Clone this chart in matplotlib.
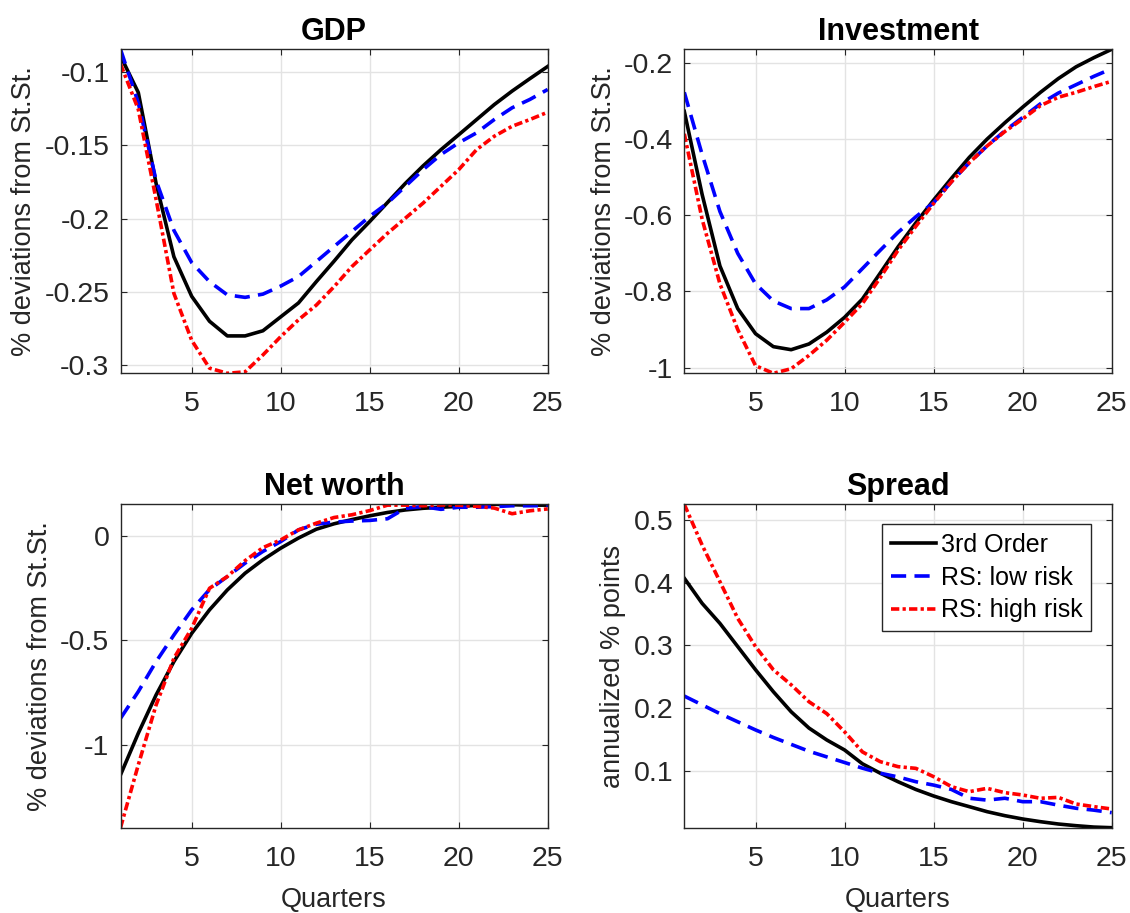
import matplotlib
matplotlib.use('Agg')
import matplotlib.pyplot as plt
import numpy as np

quarters = np.arange(1, 26)
series_names = ['3rd Order', 'RS: low risk', 'RS: high risk']

gdp_3rd = [-0.089, -0.114, -0.176, -0.226, -0.253, -0.270, -0.280, -0.280, -0.2765, -0.267,
           -0.2575, -0.243, -0.229, -0.2145, -0.202, -0.189, -0.176, -0.164, -0.153, -0.1428,
           -0.1325, -0.1222, -0.113, -0.1045, -0.0962]
gdp_low = [-0.0845, -0.121, -0.174, -0.208, -0.230, -0.243, -0.252, -0.2537, -0.2515, -0.246,
           -0.2395, -0.2293, -0.219, -0.2088, -0.1985, -0.1894, -0.178, -0.1666, -0.1563, -0.1483,
           -0.1415, -0.1324, -0.1244, -0.1187, -0.1119]
gdp_high = [-0.0945, -0.1255, -0.187, -0.251, -0.283, -0.302, -0.3055, -0.3045, -0.293, -0.2805,
            -0.269, -0.259, -0.2464, -0.2327, -0.2213, -0.210, -0.1997, -0.1894, -0.178, -0.1666,
            -0.153, -0.1438, -0.137, -0.1324, -0.1274]

inv_3rd = [-0.327, -0.545, -0.733, -0.845, -0.911, -0.945, -0.953, -0.938, -0.907, -0.868,
           -0.820, -0.752, -0.683, -0.620, -0.560, -0.503, -0.448, -0.400, -0.357, -0.316,
           -0.277, -0.241, -0.210, -0.186, -0.164]
inv_low = [-0.277, -0.44, -0.59, -0.70, -0.78, -0.825, -0.845, -0.845, -0.822, -0.788,
           -0.740, -0.692, -0.645, -0.604, -0.567, -0.512, -0.462, -0.418, -0.378, -0.343,
           -0.307, -0.279, -0.257, -0.235, -0.215]
inv_high = [-0.386, -0.61, -0.78, -0.90, -0.995, -1.015, -1.003, -0.968, -0.928, -0.881,
            -0.832, -0.764, -0.692, -0.629, -0.569, -0.512, -0.462, -0.418, -0.380, -0.347,
            -0.312, -0.290, -0.277, -0.262, -0.248]

nw_3rd = [-1.143, -0.944, -0.761, -0.602, -0.467, -0.355, -0.260, -0.180, -0.116, -0.0605,
          -0.012, 0.030, 0.056, 0.076, 0.094, 0.110, 0.122, 0.130, 0.135, 0.139,
          0.144, 0.149, 0.147, 0.145, 0.145]
nw_low = [-0.873, -0.745, -0.602, -0.475, -0.355, -0.258, -0.196, -0.132, -0.076, -0.029,
          0.027, 0.054, 0.064, 0.069, 0.072, 0.080, 0.130, 0.138, 0.125, 0.135,
          0.135, 0.138, 0.142, 0.142, 0.143]
nw_high = [-1.395, -1.095, -0.809, -0.586, -0.443, -0.252, -0.196, -0.120, -0.058, -0.021,
           0.027, 0.059, 0.086, 0.099, 0.119, 0.145, 0.145, 0.142, 0.146, 0.145,
           0.139, 0.131, 0.104, 0.118, 0.127]

spread_3rd = [0.407, 0.367, 0.335, 0.298, 0.261, 0.226, 0.194, 0.168, 0.149, 0.133,
              0.111, 0.096, 0.0824, 0.070, 0.0596, 0.0505, 0.0426, 0.0346, 0.0282, 0.0229,
              0.0186, 0.0149, 0.0122, 0.0100, 0.0090]
spread_low = [0.219, 0.205, 0.191, 0.178, 0.165, 0.153, 0.142, 0.131, 0.122, 0.113,
              0.104, 0.096, 0.090, 0.0824, 0.077, 0.070, 0.056, 0.053, 0.056, 0.0505,
              0.0505, 0.045, 0.040, 0.037, 0.033]
spread_high = [0.525, 0.460, 0.4016, 0.343, 0.298, 0.261, 0.237, 0.210, 0.191, 0.162,
               0.130, 0.1144, 0.1064, 0.1037, 0.0904, 0.0745, 0.0665, 0.0718, 0.0649, 0.0612,
               0.0559, 0.0574, 0.0468, 0.0426, 0.0388]

panels = [
    ('GDP', '% deviations from St.St.', (gdp_3rd, gdp_low, gdp_high), [-0.3, -0.25, -0.2, -0.15, -0.1]),
    ('Investment', '% deviations from St.St.', (inv_3rd, inv_low, inv_high), [-1, -0.8, -0.6, -0.4, -0.2]),
    ('Net worth', '% deviations from St.St.', (nw_3rd, nw_low, nw_high), [-1, -0.5, 0]),
    ('Spread', 'annualized % points', (spread_3rd, spread_low, spread_high), [0.1, 0.2, 0.3, 0.4, 0.5]),
]
xticks = [5, 10, 15, 20, 25]


def main():
    plt.rcParams['font.family'] = ['Liberation Sans', 'DejaVu Sans']
    plt.rcParams['axes.unicode_minus'] = False

    W, H = 1130, 913
    fig = plt.figure(figsize=(W / 100, H / 100), dpi=100)
    # axes boxes in pixels: left, top, right, bottom
    boxes = [(120.5, 49.3, 547.7, 373.3), (684.3, 49.3, 1111.7, 373.3),
             (120.5, 504.3, 547.7, 827.7), (684.3, 504.3, 1111.7, 827.7)]

    styles = [
        dict(color='k', linestyle='-'),
        dict(color=(0, 0, 1), linestyle=(0, (4.2, 2.3))),
        dict(color=(1, 0, 0), linestyle=(0, (2.3, 0.9, 0.9, 0.9))),
    ]
    axfg = '#262626'

    for i, (title, ylabel, lines, yticks) in enumerate(panels):
        l, t, r, b = boxes[i]
        ax = fig.add_axes([l / W, 1 - b / H, (r - l) / W, (b - t) / H])
        for vals, name, st in zip(lines, series_names, styles):
            ax.plot(quarters, vals, linewidth=2.6, label=name, **st)

        # tight limits around the plotted data
        allv = np.concatenate([np.asarray(v) for v in lines])
        ax.set_xlim(1, 25)
        ax.set_ylim(allv.min(), allv.max())
        ax.set_xticks(xticks)
        ax.set_yticks(yticks)
        ax.set_yticklabels(['%g' % v for v in yticks])

        ax.grid(True, color='#e3e3e3', linewidth=1.0)
        ax.set_axisbelow(True)
        ax.tick_params(direction='in', top=True, right=True, length=4, width=0.8,
                       colors=axfg, labelsize=20.5)
        ax.tick_params(axis='x', pad=13)
        ax.tick_params(axis='y', pad=8)
        for sp in ax.spines.values():
            sp.set_color(axfg)
            sp.set_linewidth(1.0)

        ax.set_title(title, fontsize=22, fontweight='bold', pad=7)
        ax.set_ylabel(ylabel, fontsize=19.5, color=axfg, labelpad=5)
        if i >= 2:
            ax.set_xlabel('Quarters', fontsize=19.5, color=axfg, labelpad=11)

        if title == 'Spread':
            leg = ax.legend(loc='upper right', bbox_to_anchor=(0.9516, 0.939),
                            borderaxespad=0, fontsize=18, frameon=True, fancybox=False,
                            framealpha=1, edgecolor=axfg, handlelength=1.8,
                            handletextpad=0.2, labelspacing=0.35, borderpad=0.35)
            leg.get_frame().set_linewidth(1.0)

    plt.savefig('out.png', dpi=100)


if __name__ == '__main__':
    main()
